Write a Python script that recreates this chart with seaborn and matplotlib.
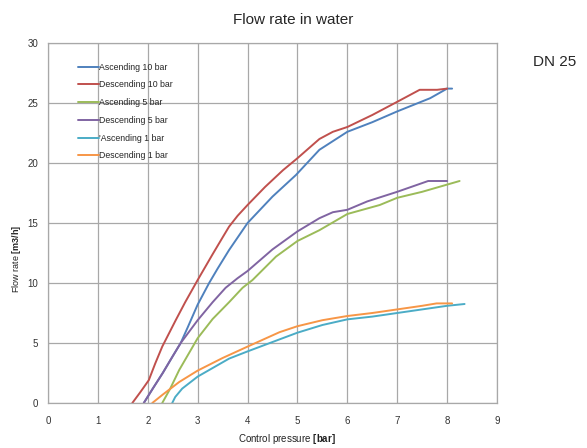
import pandas as pd
import numpy as np
import seaborn as sns
import matplotlib
matplotlib.use('agg')
import matplotlib.pyplot as plt

sns.set_style('white')
plt.rcParams['font.family'] = ['Liberation Sans', 'DejaVu Sans']
plt.rcParams['mathtext.fontset'] = 'custom'
plt.rcParams['mathtext.rm'] = 'Liberation Sans'
plt.rcParams['mathtext.bf'] = 'Liberation Sans:bold'

# values
asc10_x = [1.92, 2.1, 2.3, 2.5, 2.66, 2.8, 3.0, 3.23, 3.4, 3.63, 4.0, 4.5, 4.97, 5.44, 6.0, 6.5, 7.0, 7.66, 8.0, 8.1]
asc10_y = [0, 1.2, 2.5, 3.9, 5.0, 6.3, 8.2, 10.0, 11.2, 12.75, 15.0, 17.2, 19.0, 21.1, 22.6, 23.4, 24.3, 25.4, 26.2, 26.2]

desc10_x = [1.69, 1.85, 2.02, 2.15, 2.29, 2.56, 2.75, 3.0, 3.3, 3.5, 3.63, 3.8, 4.0, 4.35, 4.71, 5.0, 5.44, 5.71, 6.0, 6.5, 7.0, 7.45, 7.8, 8.0]
desc10_y = [0, 0.9, 1.9, 3.3, 4.7, 6.9, 8.4, 10.25, 12.4, 13.8, 14.7, 15.6, 16.5, 18.0, 19.4, 20.4, 22.0, 22.6, 23.0, 24.0, 25.1, 26.1, 26.1, 26.2]

asc5_x = [2.29, 2.45, 2.63, 3.0, 3.3, 3.63, 3.9, 4.1, 4.57, 5.0, 5.44, 6.0, 6.65, 7.0, 7.5, 8.0, 8.25]
asc5_y = [0, 1.2, 2.75, 5.4, 7.0, 8.4, 9.6, 10.25, 12.2, 13.5, 14.4, 15.75, 16.5, 17.1, 17.6, 18.2, 18.5]

desc5_x = [1.92, 2.1, 2.3, 2.5, 2.66, 3.0, 3.3, 3.56, 3.8, 4.0, 4.5, 5.0, 5.44, 5.71, 6.0, 6.4, 7.0, 7.62, 8.0]
desc5_y = [0, 1.2, 2.5, 3.9, 5.0, 6.9, 8.4, 9.6, 10.4, 11.0, 12.8, 14.3, 15.4, 15.9, 16.1, 16.8, 17.6, 18.5, 18.5]

asc1_x = [2.49, 2.55, 2.69, 3.0, 3.63, 4.0, 4.64, 5.0, 5.5, 6.0, 6.5, 7.0, 7.5, 8.0, 8.35]
asc1_y = [0, 0.5, 1.2, 2.2, 3.7, 4.3, 5.3, 5.86, 6.5, 6.97, 7.2, 7.5, 7.8, 8.1, 8.25]

desc1_x = [2.09, 2.3, 2.63, 3.0, 3.5, 4.0, 4.64, 5.0, 5.5, 6.0, 6.5, 7.0, 7.5, 7.79, 8.1]
desc1_y = [0, 0.7, 1.75, 2.7, 3.75, 4.7, 5.9, 6.4, 6.9, 7.25, 7.5, 7.8, 8.1, 8.3, 8.3]

series = ['Ascending 10 bar', 'Descending 10 bar', 'Ascending 5 bar',
          'Descending 5 bar', "'Ascending 1 bar", 'Descending 1 bar']
colors = ['#4F81BD', '#C0504D', '#9BBB59', '#8064A2', '#4BACC6', '#F79646']

xs = [asc10_x, desc10_x, asc5_x, desc5_x, asc1_x, desc1_x]
ys = [asc10_y, desc10_y, asc5_y, desc5_y, asc1_y, desc1_y]

rows = []
for name, x, y in zip(series, xs, ys):
    for a, b in zip(x, y):
        rows.append({'series': name, 'pressure': a, 'flow': b})
df = pd.DataFrame(rows)

fig = plt.figure(figsize=(5.87, 4.48), dpi=100)
ax = fig.add_axes([48 / 587, 1 - 403 / 448, 449 / 587, 360 / 448])

sns.lineplot(data=df, x='pressure', y='flow', hue='series', palette=colors,
             hue_order=series, sort=False, estimator=None, units='series',
             linewidth=1.4, ax=ax)

ax.set_xlim(0, 9)
ax.set_ylim(0, 30)
ax.set_xticks(range(0, 10))
ax.set_yticks(range(0, 31, 5))
ax.grid(True, color='#a8a8a8', linewidth=0.9)
for s in ax.spines.values():
    s.set_color('#a8a8a8')
    s.set_linewidth(0.9)
ax.tick_params(axis='both', length=0, labelsize=7, colors='#333333')
ax.tick_params(axis='x', pad=9)
ax.tick_params(axis='y', pad=7)

ax.set_xlabel(r'Control pressure $\mathbf{[bar]}$', fontsize=7, color='#222222')
ax.set_ylabel(r'Flow rate $\mathbf{[m3/h]}$', fontsize=6.5, color='#222222')
ax.xaxis.set_label_coords(0.532, -0.08)
ax.yaxis.set_label_coords(-0.055, 0.40)

leg = ax.legend(loc='upper left', bbox_to_anchor=(0.06, 0.955), frameon=False,
                fontsize=6.3, handlelength=2.3, handletextpad=0.1,
                labelspacing=1.0, borderaxespad=0)

fig.text(0.5, 1 - 20 / 448, 'Flow rate in water', ha='center', va='center', fontsize=11)
fig.text(555 / 587, 1 - 62 / 448, 'DN 25', ha='center', va='center', fontsize=11)

plt.savefig('out.png', dpi=100)
